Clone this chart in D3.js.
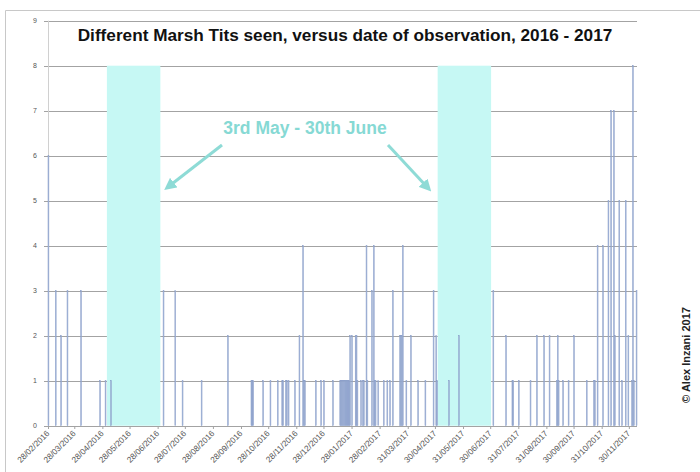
<!DOCTYPE html>
<html>
<head>
<meta charset="utf-8">
<script src="https://cdn.jsdelivr.net/npm/d3@7"></script>
<style>
  html, body { margin: 0; padding: 0; background: #fff; }
  svg { display: block; font-family: "Liberation Sans", Arial, sans-serif; }
</style>
</head>
<body>
<svg id="chart" width="700" height="472"></svg>
<script>
// ---- data ----
const obsDates = [
  "2016-02-28","2016-03-07","2016-03-13","2016-03-20","2016-04-04","2016-04-25","2016-05-01","2016-05-07",
  "2016-07-04","2016-07-17","2016-07-25","2016-08-15","2016-09-13",
  "2016-10-09","2016-10-10","2016-10-11","2016-10-22","2016-10-30",
  "2016-11-07","2016-11-12","2016-11-13","2016-11-16","2016-11-17","2016-11-19","2016-11-26",
  "2016-12-01","2016-12-05","2016-12-06","2016-12-07","2016-12-19","2016-12-25","2016-12-28",
  "2017-01-07","2017-01-15","2017-01-16","2017-01-17","2017-01-18","2017-01-19","2017-01-20","2017-01-21",
  "2017-01-22","2017-01-23","2017-01-24","2017-01-25","2017-01-26","2017-01-28",
  "2017-02-01","2017-02-02","2017-02-03","2017-02-07","2017-02-09","2017-02-10","2017-02-13","2017-02-14",
  "2017-02-19","2017-02-21","2017-02-22","2017-02-23","2017-02-26",
  "2017-03-04","2017-03-08","2017-03-11","2017-03-14","2017-03-22","2017-03-23","2017-03-24","2017-03-25","2017-03-29",
  "2017-04-03","2017-04-11","2017-04-19","2017-04-28","2017-05-01","2017-05-02","2017-05-15","2017-05-26",
  "2017-07-03","2017-07-17","2017-07-24","2017-07-25","2017-07-31",
  "2017-08-13","2017-08-20","2017-08-28","2017-09-03","2017-09-11","2017-09-12","2017-09-13","2017-09-18","2017-09-24","2017-09-30",
  "2017-10-14","2017-10-22","2017-10-23","2017-10-26","2017-11-01","2017-11-07","2017-11-10","2017-11-13","2017-11-14",
  "2017-11-19","2017-11-22","2017-11-26","2017-11-29","2017-12-03","2017-12-04","2017-12-05","2017-12-08"
];
const obsCounts = [
  6,3,2,3,3,1,1,1,
  3,3,1,1,2,
  1,1,1,1,1,
  1,1,1,1,1,1,1,
  2,4,1,1,1,1,1,
  1,1,1,1,1,1,1,1,
  1,1,1,1,2,2,
  2,2,1,1,1,1,4,1,
  3,4,1,1,1,
  1,1,1,3,2,2,2,4,1,
  2,1,1,3,2,1,1,2,
  3,2,1,1,1,
  1,2,2,2,1,2,1,1,1,2,
  1,1,1,4,4,5,7,7,2,
  5,1,5,2,1,8,1,3
];
const bandStarts = ["2016-05-03", "2017-05-03"];
const bandEnds   = ["2016-06-30", "2017-06-30"];
const bandValue = 8;
const tickLabels = [
  "28/02/2016","28/03/2016","28/04/2016","28/05/2016","28/06/2016","28/07/2016","28/08/2016",
  "28/09/2016","28/10/2016","28/11/2016","28/12/2016","28/01/2017","28/02/2017","31/03/2017",
  "30/04/2017","31/05/2017","30/06/2017","31/07/2017","31/08/2017","30/09/2017","31/10/2017","30/11/2017"
];
const yTicks = [0,1,2,3,4,5,6,7,8,9];
const titleText = "Different Marsh Tits seen, versus date of observation, 2016 - 2017";
const bandLabel = "3rd May - 30th June";
const creditText = "\u00A9 Alex Inzani 2017";

// ---- scales ----
const parseISO = d3.utcParse("%Y-%m-%d");
const parseDMY = d3.utcParse("%d/%m/%Y");
const svg = d3.select("#chart");
const pLeft = 48, pRight = 637, pTop = 20.7, pBottom = 425.7;
const x = d3.scaleUtc()
  .domain([parseISO("2016-02-28"), parseISO("2017-12-09")])
  .range([pLeft, pRight]);
const y = d3.scaleLinear().domain([0, 9]).range([pBottom, pTop]);
const nextDay = d => d3.utcDay.offset(d, 1);

// outer frame
svg.append("line").attr("x1", 5.5).attr("x2", 700).attr("y1", 10.5).attr("y2", 10.5)
  .attr("stroke", "#c8c8c8");
svg.append("line").attr("x1", 5.5).attr("x2", 5.5).attr("y1", 10.5).attr("y2", 472)
  .attr("stroke", "#c8c8c8");

// gridlines
svg.append("g").selectAll("line").data(yTicks).join("line")
  .attr("x1", pLeft - 4).attr("x2", pRight)
  .attr("y1", d => Math.round(y(d)) + 0.5).attr("y2", d => Math.round(y(d)) + 0.5)
  .attr("stroke", "#a3a3a3").attr("stroke-width", 1);

// y labels
svg.append("g").selectAll("text").data(yTicks).join("text")
  .attr("x", 37).attr("y", d => y(d) + 2.5)
  .attr("text-anchor", "end").attr("font-size", 7).attr("fill", "#555")
  .text(d => d);

// cyan bands
svg.append("g").selectAll("rect").data(bandStarts.map((s, i) => ({s: parseISO(s), e: parseISO(bandEnds[i])})))
  .join("rect")
  .attr("x", d => x(d.s)).attr("width", d => x(nextDay(d.e)) - x(d.s))
  .attr("y", y(bandValue)).attr("height", y(0) - y(bandValue))
  .attr("fill", "#c6f8f4");

// y axis line
svg.append("line").attr("x1", pLeft + 0.5).attr("x2", pLeft + 0.5).attr("y1", pTop).attr("y2", pBottom)
  .attr("stroke", "#d0d0d0");

// bars
const obs = obsDates.map((d, i) => ({date: parseISO(d), v: obsCounts[i]}));
svg.append("g").selectAll("rect").data(obs).join("rect")
  .attr("x", d => x(d.date)).attr("width", d => Math.max(0.9, x(nextDay(d.date)) - x(d.date)))
  .attr("y", d => y(d.v)).attr("height", d => y(0) - y(d.v))
  .attr("fill", "#b3c3e2").attr("stroke", "#7d93c2").attr("stroke-width", 0.45);

// x axis baseline
svg.append("line").attr("x1", pLeft).attr("x2", pRight).attr("y1", Math.round(pBottom) + 0.5).attr("y2", Math.round(pBottom) + 0.5)
  .attr("stroke", "#a3a3a3");

// x ticks + labels
const xg = svg.append("g").selectAll("g").data(tickLabels).join("g")
  .attr("transform", d => `translate(${x(parseDMY(d))},${Math.round(pBottom)})`);
xg.append("line").attr("x1", 0.5).attr("x2", 0.5).attr("y1", 0).attr("y2", 3).attr("stroke", "#a3a3a3");
xg.append("text")
  .attr("transform", "translate(2,8) rotate(-45)")
  .attr("text-anchor", "end").attr("font-size", 8.3).attr("fill", "#555")
  .text(d => d);

// title
svg.append("text").attr("x", 345).attr("y", 41)
  .attr("text-anchor", "middle").attr("font-size", 17.2).attr("font-weight", "bold").attr("fill", "#111")
  .text(titleText);

// band annotation
svg.append("defs").append("marker")
  .attr("id", "ah").attr("viewBox", "0 0 10 10").attr("refX", 6).attr("refY", 5)
  .attr("markerWidth", 4).attr("markerHeight", 4).attr("orient", "auto")
  .append("path").attr("d", "M0,0 L10,5 L0,10 z").attr("fill", "#8edbd6");
svg.append("text").attr("x", 305).attr("y", 134)
  .attr("text-anchor", "middle").attr("font-size", 17.5).attr("font-weight", "bold").attr("fill", "#86d9d4")
  .text(bandLabel);
const arrows = [[222, 145, 168, 187], [388, 145, 428, 188]];
svg.append("g").selectAll("line").data(arrows).join("line")
  .attr("x1", d => d[0]).attr("y1", d => d[1]).attr("x2", d => d[2]).attr("y2", d => d[3])
  .attr("stroke", "#8edbd6").attr("stroke-width", 3).attr("marker-end", "url(#ah)");

// credit
svg.append("text").attr("transform", "translate(690,355) rotate(-90)")
  .attr("text-anchor", "middle").attr("font-size", 11).attr("font-weight", "bold").attr("fill", "#222")
  .text(creditText);
</script>
</body>
</html>
